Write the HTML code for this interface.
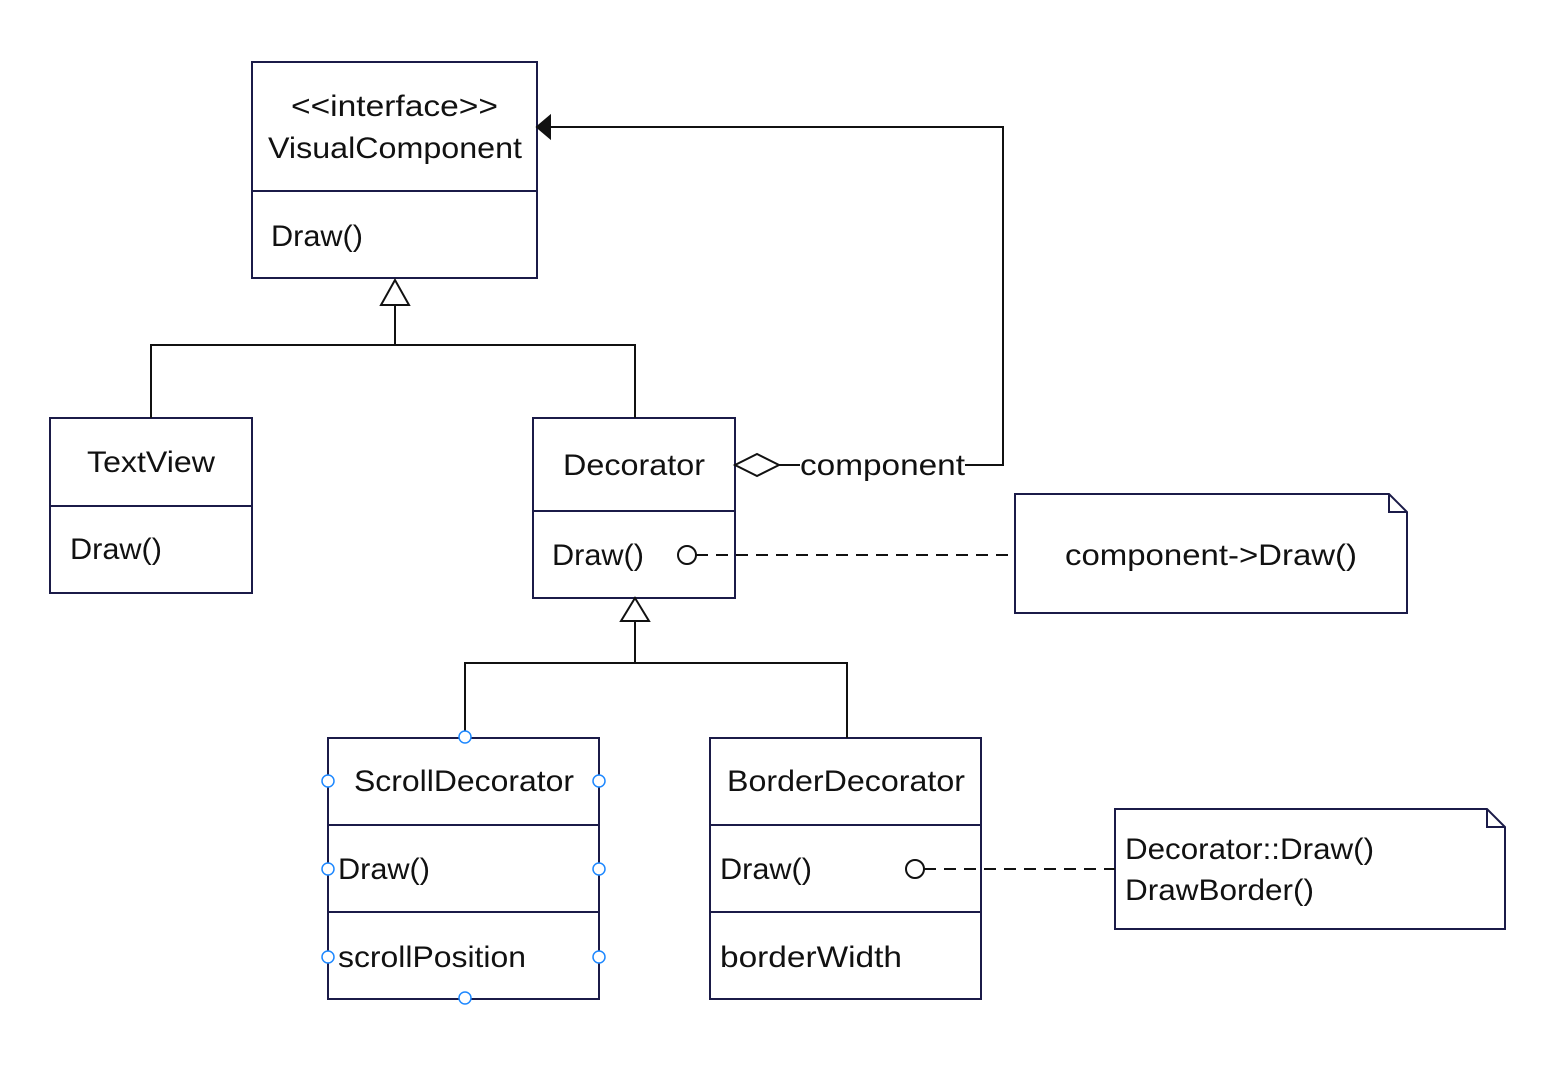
<!DOCTYPE html>
<html><head><meta charset="utf-8"><style>
html,body{margin:0;padding:0;background:#fff;width:1546px;height:1078px;overflow:hidden}
svg text{font-family:"Liberation Sans","Noto Sans CJK SC",sans-serif;font-size:30px;fill:#111}
</style></head><body>
<svg width="1546" height="1078" viewBox="0 0 1546 1078" xmlns="http://www.w3.org/2000/svg">
<g fill="none" stroke="#1b1b48" stroke-width="2">
<rect x="252" y="62" width="285" height="216"/><line x1="252" y1="191" x2="537" y2="191"/>
<rect x="50" y="418" width="202" height="175"/><line x1="50" y1="506" x2="252" y2="506"/>
<rect x="533" y="418" width="202" height="180"/><line x1="533" y1="511" x2="735" y2="511"/>
<rect x="328" y="738" width="271" height="261"/><line x1="328" y1="825" x2="599" y2="825"/><line x1="328" y1="912" x2="599" y2="912"/>
<rect x="710" y="738" width="271" height="261"/><line x1="710" y1="825" x2="981" y2="825"/><line x1="710" y1="912" x2="981" y2="912"/>
<path d="M1015 494 H1389 L1407 512 V613 H1015 Z M1389 494 V512 H1407"/>
<path d="M1115 809 H1487 L1505 827 V929 H1115 Z M1487 809 V827 H1505"/>
</g>
<g fill="none" stroke="#111" stroke-width="2">
<path d="M395 305 V345 M151 418 V345 H635 V418"/>
<path d="M395 280 L381 305 H409 Z" fill="#fff"/>
<path d="M635 621 V663 M465 738 V663 H847 V738"/>
<path d="M635 598 L621 621 H649 Z" fill="#fff"/>
<path d="M735 465 L757 454 L779 465 L757 476 Z" fill="#fff"/>
<path d="M779 465 H800 M965 465 H1003 V127 H550"/>
<path d="M537 127 L550 116 V138 Z" fill="#111"/>
<circle cx="687" cy="555" r="9"/>
<path d="M696 555 H1012" stroke-dasharray="12,8"/>
<circle cx="915" cy="869" r="9"/>
<path d="M924 869 H1115" stroke-dasharray="12,8"/>
</g>
<g fill="#fff" stroke="#1e88ff" stroke-width="1.5">
<circle cx="465" cy="737" r="6"/><circle cx="465" cy="998" r="6"/>
<circle cx="328" cy="781" r="6"/><circle cx="599" cy="781" r="6"/>
<circle cx="328" cy="869" r="6"/><circle cx="599" cy="869" r="6"/>
<circle cx="328" cy="957" r="6"/><circle cx="599" cy="957" r="6"/>
</g>
<g lengthAdjust="spacingAndGlyphs">
<text x="291" y="116" textLength="207" lengthAdjust="spacingAndGlyphs">&lt;&lt;interface&gt;&gt;</text>
<text x="268" y="158" textLength="254" lengthAdjust="spacingAndGlyphs">VisualComponent</text>
<text x="271" y="246" textLength="92" lengthAdjust="spacingAndGlyphs">Draw()</text>
<text x="87" y="472" textLength="128" lengthAdjust="spacingAndGlyphs">TextView</text>
<text x="70" y="559" textLength="92" lengthAdjust="spacingAndGlyphs">Draw()</text>
<text x="563" y="475" textLength="142" lengthAdjust="spacingAndGlyphs">Decorator</text>
<text x="552" y="565" textLength="92" lengthAdjust="spacingAndGlyphs">Draw()</text>
<text x="800" y="475" textLength="165" lengthAdjust="spacingAndGlyphs">component</text>
<text x="1065" y="565" textLength="292" lengthAdjust="spacingAndGlyphs">component-&gt;Draw()</text>
<text x="354" y="791" textLength="220" lengthAdjust="spacingAndGlyphs">ScrollDecorator</text>
<text x="338" y="879" textLength="92" lengthAdjust="spacingAndGlyphs">Draw()</text>
<text x="338" y="967" textLength="188" lengthAdjust="spacingAndGlyphs">scrollPosition</text>
<text x="727" y="791" textLength="238" lengthAdjust="spacingAndGlyphs">BorderDecorator</text>
<text x="720" y="879" textLength="92" lengthAdjust="spacingAndGlyphs">Draw()</text>
<text x="720" y="967" textLength="182" lengthAdjust="spacingAndGlyphs">borderWidth</text>
<text x="1125" y="859" textLength="249" lengthAdjust="spacingAndGlyphs">Decorator::Draw()</text>
<text x="1125" y="900" textLength="189" lengthAdjust="spacingAndGlyphs">DrawBorder()</text>
</g>
</svg>
</body></html>
